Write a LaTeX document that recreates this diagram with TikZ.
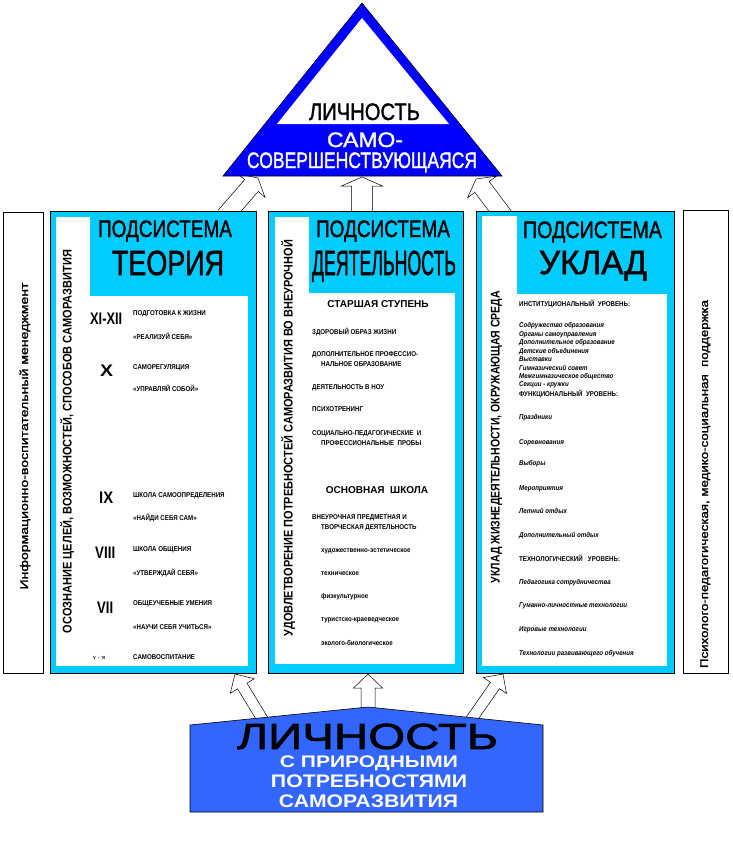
\documentclass[tikz,border=0pt]{standalone}
\usepackage{fontspec}
\usepackage{graphicx}
\setmainfont{Liberation Sans}
\newfontfamily\condf[FakeStretch=0.88]{Liberation Sans}
\newfontfamily\headf[FakeBold=1.6]{Liberation Sans}
\usetikzlibrary{calc}
\definecolor{cyanp}{RGB}{0,204,255}
\definecolor{triblue}{RGB}{0,0,255}
\definecolor{boxblue}{RGB}{51,102,255}
\newcommand\fitt[3]{\resizebox{#1}{#2}{\rule{0pt}{0.716em}\smash{#3}}}
\newcommand\harrow[5]{%
  \path ($(#2)!#5!(#1)$) coordinate (hb);
  \draw[hollow] ($(#1)!#3!90:(#2)$) -- ($(hb)!#3!90:(#2)$) -- ($(hb)!#4!90:(#2)$) -- (#2)
     -- ($(hb)!#4!-90:(#2)$) -- ($(hb)!#3!-90:(#2)$) -- ($(#1)!#3!-90:(#2)$);}
\begin{document}
\begin{tikzpicture}[x=1pt,y=-1pt,
  hollow/.style={draw=black, fill=white, line width=0.5pt, line join=miter},
  frame/.style={draw=black, line width=0.6pt, anchor=north west, inner sep=0pt},
  panel/.style={frame, fill=cyanp},
  side/.style={frame, fill=white},
  txt/.style={inner sep=0pt, anchor=base},
  head/.style={txt, font=\headf},
  txtw/.style={inner sep=0pt, anchor=base west},
  sm/.style={txtw, font=\condf\bfseries\fontsize{7}{8}\selectfont},
  smi/.style={txtw, font=\condf\bfseries\itshape\fontsize{7}{8}\selectfont},
  sub/.style={txt, font=\bfseries\fontsize{10}{12}\selectfont},
  vert/.style={inner sep=0pt, anchor=center, rotate=90},
  roman/.style={txtw, font=\bfseries}]
\useasboundingbox (0,0) rectangle (732,843);
\fill[white] (0,0) rectangle (732,843);

% ---------- arrows (drawn first, partly covered) ----------
\coordinate (b1t) at (269,730); \coordinate (b1h) at (235,674);
\coordinate (b2t) at (368,716); \coordinate (b2h) at (368,674);
\coordinate (b3t) at (466,727); \coordinate (b3h) at (503,674);
\coordinate (u1t) at (225,216); \coordinate (u1h) at (258,178);
\coordinate (u2t) at (362,222); \coordinate (u2h) at (362,177);
\coordinate (u3t) at (506,219); \coordinate (u3h) at (476,179);
\harrow{b1t}{b1h}{5.5pt}{14pt}{14pt}
\harrow{b2t}{b2h}{7pt}{14.5pt}{14pt}
\harrow{b3t}{b3h}{5.5pt}{14pt}{14pt}
\harrow{u1t}{u1h}{9pt}{18pt}{10pt}
\harrow{u2t}{u2h}{10.5pt}{20.5pt}{9pt}
\harrow{u3t}{u3h}{9pt}{18pt}{10pt}

% ---------- side bars ----------
\node[side, minimum width=40pt, minimum height=461pt] (sL) at (3,212) {};
\node[side, minimum width=45pt, minimum height=463pt] (sR) at (683,210) {};
\node[vert, font=\headf] (sLt) at (24,436) {\fitt{307pt}{8pt}{Информационно-воспитательный менеджмент}};
\node[vert, font=\headf] (sRt) at (704,484) {\fitt{368pt}{8pt}{Психолого-педагогическая, медико-социальная\ \ поддержка}};

% ---------- panels ----------
\node[panel, minimum width=206pt, minimum height=462pt] (pL) at (50,211) {};
\fill[white] (56,217) rectangle (90,666);
\fill[white] (56,296) rectangle (248,666);
\node[panel, minimum width=195pt, minimum height=462pt] (pM) at (268,211) {};
\fill[white] (275,217) rectangle (309,664);
\fill[white] (275,293) rectangle (455,664);
\node[panel, minimum width=198pt, minimum height=462pt] (pR) at (476,211) {};
\fill[white] (482,216) rectangle (517,666);
\fill[white] (482,294) rectangle (667,666);

% headers
\node[head] (hL1) at (165,237) {\fitt{134pt}{17pt}{ПОДСИСТЕМА}};
\node[head] (hL2) at (168,275) {\fitt{112pt}{25pt}{ТЕОРИЯ}};
\node[head] (hM1) at (383,237) {\fitt{134pt}{17pt}{ПОДСИСТЕМА}};
\node[head] (hM2) at (384,275) {\fitt{144pt}{25pt}{ДЕЯТЕЛЬНОСТЬ}};
\node[head] (hR1) at (592.5,238) {\fitt{139pt}{17pt}{ПОДСИСТЕМА}};
\node[head] (hR2) at (593,274) {\fitt{108pt}{24pt}{УКЛАД}};

% vertical texts
\node[vert, font=\bfseries] (vL) at (67,441.5) {\fitt{383pt}{9pt}{ОСОЗНАНИЕ ЦЕЛЕЙ, ВОЗМОЖНОСТЕЙ, СПОСОБОВ САМОРАЗВИТИЯ}};
\node[vert, font=\bfseries] (vM) at (288,438) {\fitt{396pt}{9pt}{УДОВЛЕТВОРЕНИЕ ПОТРЕБНОСТЕЙ САМОРАЗВИТИЯ ВО ВНЕУРОЧНОЙ}};
\node[vert, font=\bfseries] (vR) at (495,437) {\fitt{292pt}{9pt}{УКЛАД ЖИЗНЕДЕЯТЕЛЬНОСТИ, ОКРУЖАЮЩАЯ СРЕДА}};

% ---------- left panel content ----------
\node[roman] (r1) at (90,324) {\fitt{32pt}{12pt}{XI-XII}};
\node[roman] (r2) at (100,376) {\fitt{13pt}{12pt}{X}};
\node[roman] (r3) at (99,503) {\fitt{14pt}{12pt}{IX}};
\node[roman] (r4) at (95,558) {\fitt{20pt}{12pt}{VIII}};
\node[roman] (r5) at (97,613) {\fitt{16pt}{12pt}{VII}};
\node[sm, font=\condf\bfseries\fontsize{4.5}{5}\selectfont] (r6) at (93,659.5) {V\ \ -\ \ VI};
\node[sm] (l1) at (133,315.5) {ПОДГОТОВКА К ЖИЗНИ};
\node[sm] (l2) at (133,339.5) {«РЕАЛИЗУЙ СЕБЯ»};
\node[sm] (l3) at (133,369.5) {САМОРЕГУЛЯЦИЯ};
\node[sm] (l4) at (133,391.5) {«УПРАВЛЯЙ СОБОЙ»};
\node[sm] (l5) at (133,497.5) {ШКОЛА САМООПРЕДЕЛЕНИЯ};
\node[sm] (l6) at (133,520.5) {«НАЙДИ СЕБЯ САМ»};
\node[sm] (l7) at (133,551.5) {ШКОЛА ОБЩЕНИЯ};
\node[sm] (l8) at (133,575.5) {«УТВЕРЖДАЙ СЕБЯ»};
\node[sm] (l9) at (133,605.5) {ОБЩЕУЧЕБНЫЕ УМЕНИЯ};
\node[sm] (l10) at (133,629.5) {«НАУЧИ СЕБЯ УЧИТЬСЯ»};
\node[sm] (l11) at (133,659.5) {САМОВОСПИТАНИЕ};

% ---------- middle panel content ----------
\node[sub] (m0) at (378,307) {СТАРШАЯ СТУПЕНЬ};
\node[sm] (m1) at (312,334.5) {ЗДОРОВЫЙ ОБРАЗ ЖИЗНИ};
\node[sm] (m2) at (312,356.5) {ДОПОЛНИТЕЛЬНОЕ ПРОФЕССИО-};
\node[sm] (m3) at (321,366) {НАЛЬНОЕ ОБРАЗОВАНИЕ};
\node[sm] (m4) at (312,389.5) {ДЕЯТЕЛЬНОСТЬ В НОУ};
\node[sm] (m5) at (312,411.5) {ПСИХОТРЕНИНГ};
\node[sm] (m6) at (312,435.5) {СОЦИАЛЬНО-ПЕДАГОГИЧЕСКИЕ\ \ И};
\node[sm] (m7) at (321,445.5) {ПРОФЕССИОНАЛЬНЫЕ\ \ ПРОБЫ};
\node[sub] (m8) at (377,493) {ОСНОВНАЯ\ \ ШКОЛА};
\node[sm] (m9) at (312,519.5) {ВНЕУРОЧНАЯ ПРЕДМЕТНАЯ И};
\node[sm] (m10) at (321,529.5) {ТВОРЧЕСКАЯ ДЕЯТЕЛЬНОСТЬ};
\node[sm] (m11) at (321,552) {художественно-эстетическое};
\node[sm] (m12) at (321,575) {техническое};
\node[sm] (m13) at (321,598) {физкультурное};
\node[sm] (m14) at (321,621) {туристско-краеведческое};
\node[sm] (m15) at (321,645) {эколого-биологическое};

% ---------- right panel content ----------
\node[sm] (k0) at (519,306.5) {ИНСТИТУЦИОНАЛЬНЫЙ\ \ УРОВЕНЬ:};
\node[smi] (k1) at (519,327.5) {Содружество образования};
\node[smi] (k2) at (519,336.5) {Органы самоуправления};
\node[smi] (k3) at (519,344.5) {Дополнительное образование};
\node[smi] (k4) at (519,353.5) {Детские объединения};
\node[smi] (k5) at (519,361.5) {Выставки};
\node[smi] (k6) at (519,370.5) {Гимназический совет};
\node[smi] (k7) at (519,378.5) {Межгимназическое общество};
\node[smi] (k8) at (519,386.5) {Секции - кружки};
\node[sm] (k9) at (519,396.5) {ФУНКЦИОНАЛЬНЫЙ\ \ УРОВЕНЬ:};
\node[smi] (k10) at (519,419.5) {Праздники};
\node[smi] (k11) at (519,444.5) {Соревнования};
\node[smi] (k12) at (519,465.5) {Выборы};
\node[smi] (k13) at (519,490.5) {Мероприятия};
\node[smi] (k14) at (519,513.5) {Летний отдых};
\node[smi] (k15) at (519,537.5) {Дополнительный отдых};
\node[sm] (k16) at (519,561.5) {ТЕХНОЛОГИЧЕСКИЙ\ \ \ УРОВЕНЬ:};
\node[smi] (k17) at (519,584.5) {Педагогика сотрудничества};
\node[smi] (k18) at (519,607.5) {Гуманно-личностные технологии};
\node[smi] (k19) at (519,631.5) {Игровые технологии};
\node[smi] (k20) at (519,655.5) {Технологии развивающего обучения};

% ---------- top triangle ----------
\coordinate (ta) at (362,3); \coordinate (tl) at (223,176); \coordinate (tr) at (502,176);
\coordinate (ia) at (362,18); \coordinate (il) at (277,124); \coordinate (ir) at (449,124);
\draw[fill=triblue, draw=black, line width=0.6pt, line join=miter] (ta) -- (tr) -- (tl) -- cycle;
\fill[white] (ia) -- (ir) -- (il) -- cycle;
\node[head] (t1) at (364.5,120) {\fitt{111pt}{17pt}{ЛИЧНОСТЬ}};
\node[head, text=white] (t2) at (365,147) {\fitt{76pt}{15pt}{САМО-}};
\node[head, text=white] (t3) at (362,168) {\fitt{230pt}{16pt}{СОВЕРШЕНСТВУЮЩАЯСЯ}};

% ---------- bottom box ----------
\coordinate (q1) at (190,812); \coordinate (q2) at (190,725); \coordinate (q3) at (368,707);
\coordinate (q4) at (543,725); \coordinate (q5) at (543,812);
\draw[fill=boxblue, draw=black, line width=0.6pt] (q1) -- (q2) -- (q3) -- (q4) -- (q5) -- cycle;
\node[head] (g1) at (367.5,749) {\fitt{261pt}{26pt}{ЛИЧНОСТЬ}};
\node[txt, text=white, font=\bfseries] (g2) at (369,767) {\fitt{178pt}{12pt}{С ПРИРОДНЫМИ}};
\node[txt, text=white, font=\bfseries] (g3) at (369,787) {\fitt{196pt}{13pt}{ПОТРЕБНОСТЯМИ}};
\node[txt, text=white, font=\bfseries] (g4) at (368.5,807) {\fitt{179pt}{13pt}{САМОРАЗВИТИЯ}};
\end{tikzpicture}
\end{document}
